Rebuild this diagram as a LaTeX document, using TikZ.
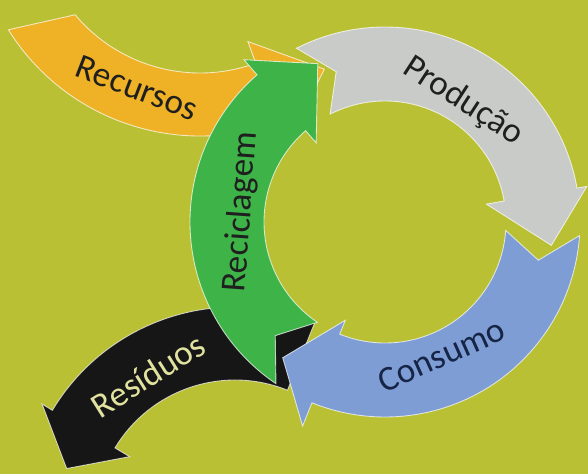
\documentclass[tikz,border=0pt]{standalone}
\usepackage{fontspec}
\setmainfont{Carlito}
\usepackage{xcolor}
\usepackage{tikz}

\definecolor{bgolive}{RGB}{186,192,52}
\definecolor{recyellow}{RGB}{239,178,39}
\definecolor{prodgray}{RGB}{201,203,201}
\definecolor{consblue}{RGB}{125,157,212}
\definecolor{recgreen}{RGB}{62,180,72}
\definecolor{wasteblack}{RGB}{22,22,22}
\definecolor{consnavy}{RGB}{22,36,70}
\definecolor{wastetext}{RGB}{226,226,160}

\begin{document}
\begin{tikzpicture}[x=0.02cm,y=0.02cm,
  band/.style={draw=white, draw opacity=0.7, line width=0.5pt},
  wordtext/.style={font=\fontsize{20}{22}\selectfont, text=black!88, inner sep=0pt}]

% Background
\fill[bgolive] (0,0) rectangle (588,474);
\useasboundingbox (0,0) rectangle (588,474);

% Centres of the arcs
\coordinate (cyc) at (385,252);
\coordinate (res) at (235,-46);
\coordinate (rec) at (200,564);

% Residuos (black)
\begin{scope}[shift={(res)}]
\fill[band, fill=wasteblack] (68:213) arc[start angle=68, end angle=149, radius=213] -- (149:225) -- (163:176) -- (149:123) -- (149:140) arc[start angle=149, end angle=68, radius=140] -- cycle;
\node[wordtext, text=wastetext, rotate=32] (residuos) at (121:169) {Resíduos};
\end{scope}

% Producao (gray)
\begin{scope}[shift={(cyc)}]
\fill[band, fill=prodgray] (117:195) arc[start angle=117, end angle=10, radius=195] -- (10:205) -- (-8:168) -- (10:103) -- (10:121) arc[start angle=10, end angle=117, radius=121] -- (108:158) -- cycle;
\node[wordtext, rotate=-33] (producao) at (57:144) {Produção};
\end{scope}

% Recursos (yellow)
\begin{scope}[shift={(rec)}]
\fill[band, fill=recyellow] (-148:226) arc[start angle=-148, end angle=-70, radius=226] -- (-70:250) -- (-52:202) -- (-70:140) -- (-70:163) arc[start angle=-70, end angle=-140, radius=163] -- cycle;
\node[wordtext, rotate=-21] (recursos) at (-109.5:189) {Recursos};
\end{scope}

% Consumo (blue) and Reciclagem (green)
\begin{scope}[shift={(cyc)}]
\fill[band, fill=consblue] (-4:195) arc[start angle=-4, end angle=-112, radius=195] -- (-112:220) -- (-127:170) -- (-112:106) -- (-112:121) arc[start angle=-112, end angle=-4, radius=121] -- (-14:158) -- cycle;
\node[wordtext, text=consnavy, rotate=24] (consumo) at (-67:145) {Consumo};

\fill[band, fill=recgreen] (236:195) arc[start angle=236, end angle=131, radius=195] -- (131:215) -- (113:172) -- (131:105) -- (131:121) arc[start angle=131, end angle=236, radius=121] -- (226:158) -- cycle;
\node[wordtext, rotate=86] (reciclagem) at (176:144) {Reciclagem};
\end{scope}

\end{tikzpicture}
\end{document}
